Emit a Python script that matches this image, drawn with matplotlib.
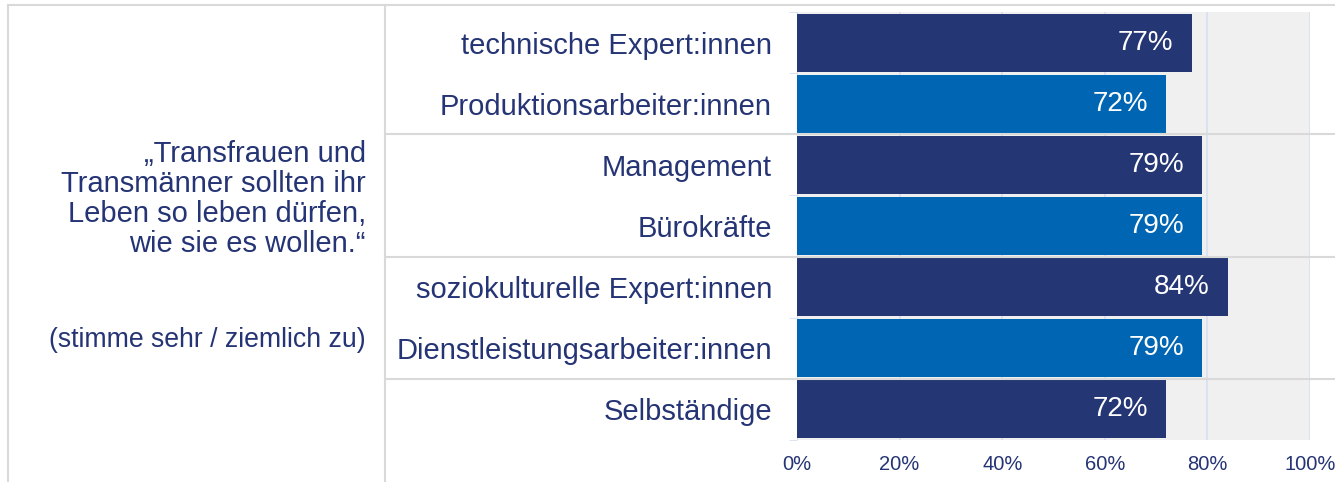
import matplotlib
matplotlib.use("Agg")
import matplotlib.pyplot as plt
from matplotlib.transforms import blended_transform_factory

plt.rcParams["font.family"] = ["Liberation Sans", "DejaVu Sans"]

categories = ["technische Expert:innen", "Produktionsarbeiter:innen", "Management",
              "Bürokräfte", "soziokulturelle Expert:innen", "Dienstleistungsarbeiter:innen",
              "Selbständige"]
values = [77, 72, 79, 79, 84, 79, 72]
bar_colors = ["#243673", "#0066b3", "#243673", "#0066b3", "#243673", "#0066b3", "#243673"]
x_ticks = [0, 20, 40, 60, 80, 100]
x_tick_labels = ["0%", "20%", "40%", "60%", "80%", "100%"]
statement = "„Transfrauen und\nTransmänner sollten ihr\nLeben so leben dürfen,\nwie sie es wollen.“"
note = "(stimme sehr / ziemlich zu)"

NAVY = "#253474"
GRID = "#d6def0"
SEP = "#d9d9d9"

fig = plt.figure(figsize=(13.35, 4.82), dpi=100)
ax = fig.add_axes([797 / 1335, 1 - 440 / 482, 513 / 1335, 428 / 482])
ax.set_facecolor("#f0f0f0")

ys = list(range(len(categories)))
ax.barh(ys, values, height=0.95, color=bar_colors, zorder=2)
for y, v in zip(ys, values):
    ax.text(v - 3.6, y, f"{v}%", color="white", fontsize=20, ha="right", va="center", zorder=3)

ax.set_xlim(0, 100)
ax.set_ylim(len(categories) - 0.5, -0.5)
ax.set_xticks(x_ticks)
ax.set_xticklabels(x_tick_labels, color=NAVY, fontsize=14.5)
ax.set_yticks(ys)
ax.set_yticklabels(categories, color=NAVY, fontsize=21)
ax.set_yticks([i - 0.5 for i in range(len(categories) + 1)], minor=True)
ax.tick_params(axis="y", which="major", length=0, pad=18)
ax.tick_params(axis="y", which="minor", length=6, color=GRID)
ax.tick_params(axis="x", length=0, pad=11)
ax.grid(axis="x", color=GRID, lw=1.2, zorder=1)
ax.set_axisbelow(True)
for s in ax.spines.values():
    s.set_visible(False)
ax.axvline(0, color=GRID, lw=1.2, zorder=1)

# frame lines and group separators
fig.add_artist(plt.Line2D([8 / 1335, 1], [1 - 5 / 482] * 2, color=SEP, lw=1.5))
fig.add_artist(plt.Line2D([8 / 1335] * 2, [0, 1 - 5 / 482], color=SEP, lw=1.5))
fig.add_artist(plt.Line2D([385 / 1335] * 2, [0, 1 - 5 / 482], color=SEP, lw=1.5))
tr = blended_transform_factory(fig.transFigure, ax.transData)
for b in (1.5, 3.5, 5.5):
    fig.add_artist(plt.Line2D([385 / 1335, 1], [b, b], color=SEP, lw=1.5, transform=tr))

fig.text(366 / 1335, 1 - 199 / 482, statement, color=NAVY, fontsize=21,
         ha="right", va="center", linespacing=1.08)
fig.text(366 / 1335, 1 - 340 / 482, note, color=NAVY, fontsize=19.2, ha="right", va="center")

fig.savefig("out.png", dpi=100)
